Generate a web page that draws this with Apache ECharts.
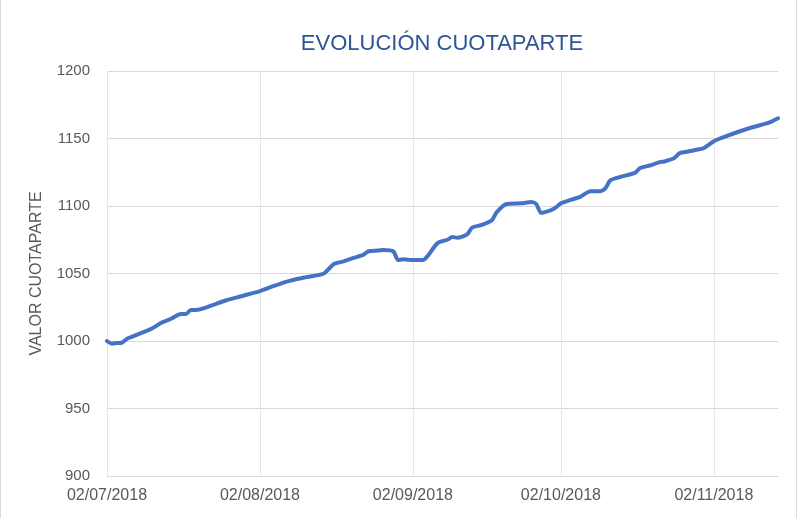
<!DOCTYPE html>
<html>
<head>
<meta charset="utf-8">
<script src="https://cdn.jsdelivr.net/npm/echarts@6/dist/echarts.min.js"></script>
<style>
  html, body { margin: 0; padding: 0; background: #fff; overflow: hidden; }
  #frame {
    position: absolute; left: 0; top: -1px;
    width: 795px; height: 530px;
    border: 1px solid #d9d9d9;
  }
  #main { position: absolute; left: 0; top: 0; width: 799px; height: 518px; }
</style>
</head>
<body>
<div id="frame"></div>
<div id="main"></div>
<script>
// fechas y valor cuotaparte
const fechas = [
  '2018-07-02', '2018-07-03', '2018-07-04', '2018-07-05', '2018-07-06', '2018-07-07',
  '2018-07-09', '2018-07-10', '2018-07-11', '2018-07-13', '2018-07-15', '2018-07-17',
  '2018-07-18', '2018-07-19', '2018-07-20', '2018-07-23', '2018-07-26', '2018-07-29',
  '2018-08-02', '2018-08-05', '2018-08-08', '2018-08-11', '2018-08-14', '2018-08-15',
  '2018-08-17', '2018-08-19', '2018-08-21', '2018-08-23', '2018-08-24', '2018-08-26',
  '2018-08-27', '2018-08-29', '2018-08-30', '2018-08-31', '2018-09-02', '2018-09-04',
  '2018-09-05', '2018-09-07', '2018-09-09', '2018-09-10', '2018-09-11', '2018-09-13',
  '2018-09-14', '2018-09-16', '2018-09-18', '2018-09-19', '2018-09-21', '2018-09-24',
  '2018-09-26', '2018-09-27', '2018-09-28', '2018-09-30', '2018-10-01', '2018-10-02',
  '2018-10-04', '2018-10-06', '2018-10-08', '2018-10-10', '2018-10-11', '2018-10-12',
  '2018-10-14', '2018-10-17', '2018-10-18', '2018-10-20', '2018-10-22', '2018-10-23',
  '2018-10-25', '2018-10-26', '2018-10-28', '2018-10-30', '2018-10-31', '2018-11-02',
  '2018-11-04', '2018-11-07', '2018-11-10', '2018-11-13', '2018-11-15'
];
const valores = [
  1000, 998, 998.5, 998.7, 1001.5, 1003,
  1006, 1007.5, 1009, 1013.5, 1016.5, 1020,
  1020, 1023, 1023, 1026, 1030, 1033,
  1037, 1041, 1044.5, 1047, 1049, 1050,
  1057, 1059, 1061.5, 1064, 1066.5, 1067,
  1067.5, 1066.5, 1060, 1060.5, 1060, 1060,
  1063, 1072.5, 1075, 1077, 1076.5, 1079,
  1084, 1086, 1089.5, 1095.5, 1101.5, 1102,
  1103, 1101.5, 1095, 1097, 1099, 1102,
  1104.5, 1107, 1111, 1111, 1113, 1119,
  1121.5, 1124.5, 1128, 1130, 1132.5, 1133,
  1135.5, 1139, 1140.5, 1142, 1143, 1148,
  1151, 1155, 1158.5, 1161.5, 1165
];
// marcas del eje x
const etiquetasX = ['2018-07-02', '2018-08-02', '2018-09-02', '2018-10-02', '2018-11-02'];

const chart = echarts.init(document.getElementById('main'));

const option = {
  animation: false,
  backgroundColor: 'transparent',
  textStyle: { fontFamily: 'Liberation Sans' },
  title: {
    text: 'EVOLUCIÓN CUOTAPARTE',
    left: 437,
    top: 28,
    textAlign: 'center',
    textStyle: {
      color: '#2f5597',
      fontSize: 22,
      fontWeight: 'normal',
      fontFamily: 'Liberation Sans'
    }
  },
  grid: { left: 107, right: 21, top: 71, bottom: 42, containLabel: false },
  xAxis: {
    type: 'time',
    min: '2018-07-02',
    max: '2018-11-15',
    axisLine: { show: true, lineStyle: { color: '#d9d9d9', width: 1 } },
    axisTick: { show: false, customValues: etiquetasX },
    axisLabel: {
      customValues: etiquetasX,
      formatter: '{dd}/{MM}/{yyyy}',
      color: '#595959',
      fontSize: 16,
      margin: 12,
      showMinLabel: true,
      showMaxLabel: true
    },
    splitLine: { show: true, lineStyle: { color: '#e6e6e6', width: 1 } }
  },
  yAxis: {
    type: 'value',
    min: 900,
    max: 1200,
    interval: 50,
    name: 'VALOR CUOTAPARTE',
    nameLocation: 'middle',
    nameGap: 62,
    nameTextStyle: { color: '#595959', fontSize: 16 },
    axisLine: { show: false },
    axisTick: { show: false },
    axisLabel: {
      color: '#595959',
      fontSize: 15,
      margin: 17,
      formatter: (v) => String(v)
    },
    splitLine: { lineStyle: { color: '#d9d9d9', width: 1 } }
  },
  series: [
    {
      name: 'Cuotaparte',
      type: 'line',
      data: fechas.map((f, i) => [f, valores[i]]),
      showSymbol: false,
      smooth: 0.25,
      lineStyle: { color: '#4472c4', width: 4, cap: 'round', join: 'round' },
      itemStyle: { color: '#4472c4' }
    }
  ]
};

chart.setOption(option);
</script>
</body>
</html>
